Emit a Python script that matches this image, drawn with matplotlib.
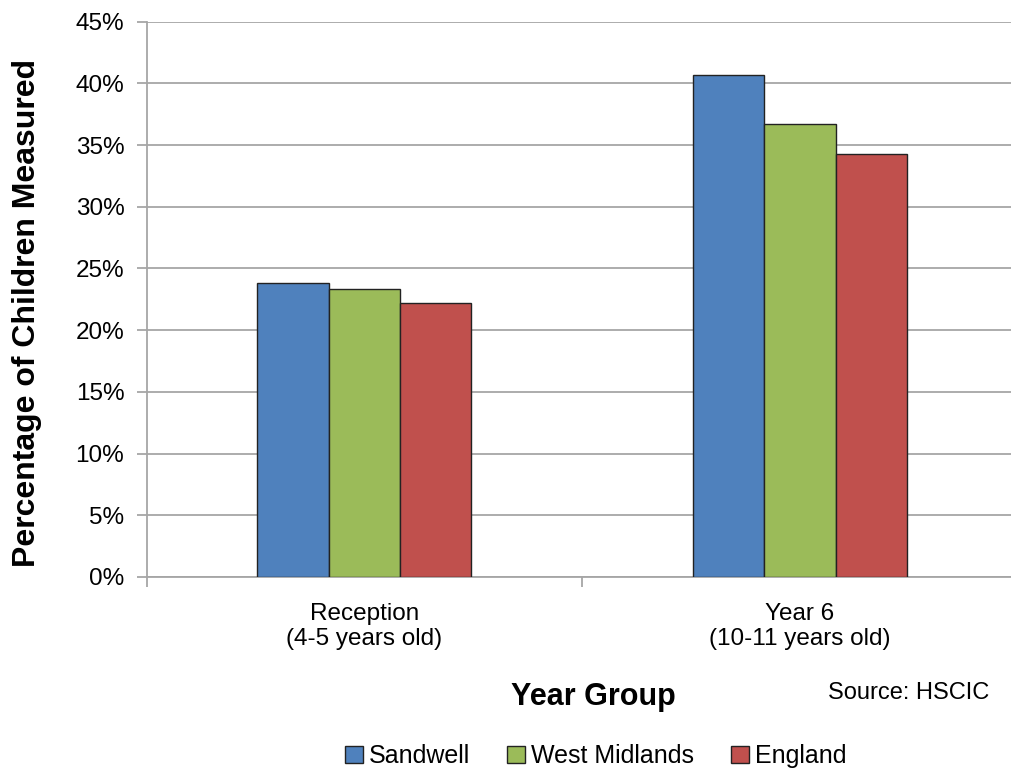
import numpy as np
import matplotlib.pyplot as plt
from matplotlib.ticker import PercentFormatter

plt.rcParams['font.family'] = ['Liberation Sans', 'DejaVu Sans']

# data
categories = ['Reception\n(4-5 years old)', 'Year 6\n(10-11 years old)']
series_names = ['Sandwell', 'West Midlands', 'England']
sandwell = [23.8, 40.7]
west_midlands = [23.3, 36.7]
england = [22.2, 34.3]
colors = ['#4F81BD', '#9BBB59', '#C0504D']

fig = plt.figure(figsize=(10.11, 7.69), dpi=100)
ax = fig.add_axes([0.145, 0.2497, 0.8615, 0.7221])

x = np.arange(len(categories))
width = 0.164
for i, (vals, name, c) in enumerate(zip([sandwell, west_midlands, england], series_names, colors)):
    ax.bar(x + (i - 1) * width, vals, width, color=c, edgecolor='#222222',
           linewidth=1.0, label=name, zorder=3)

ax.set_xlim(-0.5, 1.5)
ax.set_ylim(0, 45)
ax.set_yticks(np.arange(0, 46, 5))
ax.yaxis.set_major_formatter(PercentFormatter(decimals=0))
ax.grid(axis='y', color='#a6a6a6', linewidth=1.3, zorder=0)

ax.set_xticks(x)
ax.set_xticklabels(categories, fontsize=17.5, linespacing=1.15)
ax.set_xticks([-0.5, 0.5, 1.5], minor=True)
ax.tick_params(axis='x', which='major', length=0, pad=19)
ax.tick_params(axis='x', which='minor', length=7, color='#a6a6a6', width=1.3)
ax.tick_params(axis='y', labelsize=17.5, length=7, color='#a6a6a6', width=1.3, pad=9)

for s in ['top', 'right']:
    ax.spines[s].set_visible(False)
for s in ['left', 'bottom']:
    ax.spines[s].set_color('#a6a6a6')
    ax.spines[s].set_linewidth(1.3)

ax.set_ylabel('Percentage of Children Measured', fontsize=23, fontweight='bold')
ax.yaxis.set_label_coords(-0.12, 0.476)

fig.text(0.587, 0.0936, 'Year Group', fontsize=22, fontweight='bold', ha='center', va='center')
fig.text(0.899, 0.0985, 'Source: HSCIC', fontsize=17, ha='center', va='center')

fig.legend(loc='center', bbox_to_anchor=(0.589, 0.0165), ncol=3, frameon=False,
           fontsize=18, handlelength=0.72, handleheight=0.72, handletextpad=0.22,
           columnspacing=1.5)

fig.savefig('out.png', dpi=100)
